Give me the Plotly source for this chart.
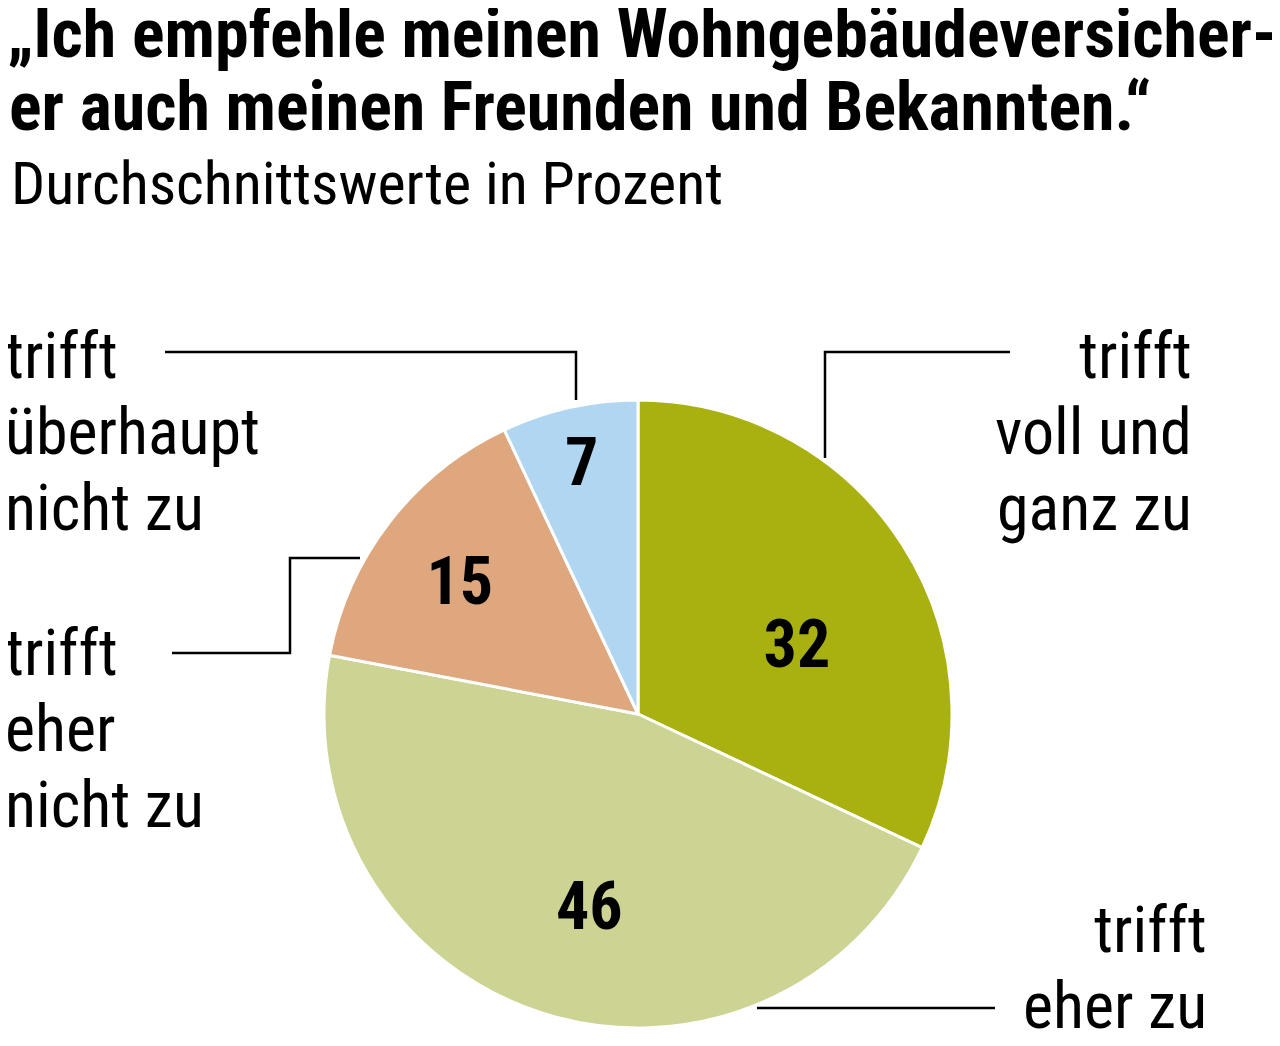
import plotly.graph_objects as go

# Data
categories = ["trifft voll und ganz zu", "trifft eher zu", "trifft eher nicht zu", "trifft überhaupt nicht zu"]
values = [32, 46, 15, 7]
colors = ["#a8b10f", "#cdd392", "#dea77e", "#b0d6f1"]

title_lines = ["„Ich empfehle meinen Wohngebäudeversicher-", "er auch meinen Freunden und Bekannten.“"]
subtitle = "Durchschnittswerte in Prozent"

# label text split into lines, same order as categories
label_lines = [
    ["trifft", "voll und", "ganz zu"],
    ["trifft", "eher zu"],
    ["trifft", "eher", "nicht zu"],
    ["trifft", "überhaupt", "nicht zu"],
]

FONT = "Roboto Condensed, DejaVu Sans Condensed, sans-serif"
PAGE_OFF = 8            # body margin of the html page
W, H = 1280 - PAGE_OFF, 1046 - PAGE_OFF
NB = "\u00a0"
PAD = "<span style='font-size:20px'>" + NB + "</span>"


def px(x):
    # page pixel -> paper fraction
    return (x - PAGE_OFF) / W


def py(y):
    return 1 - (y - PAGE_OFF) / H


def add_line_text(fig, txt, x, baseline, size, anchor="left", bold=False):
    if bold:
        txt = "<b>" + txt + "</b>"
    fig.add_annotation(
        text=txt, x=px(x), y=py(baseline - 0.34 * size), xref="paper", yref="paper",
        xanchor=anchor, yanchor="middle", showarrow=False,
        font=dict(family=FONT, size=size, color="black"))


# small nudges of the in-slice numbers (padding only, value comes from data)
num_tmpl = [
    PAD + "<br>" + NB + NB + "<b>%{value}</b>",
    NB + "<br><b>%{value}</b>",
    "<b>%{value}</b>" + NB,
    "<b>%{value}</b>",
]

fig = go.Figure(go.Pie(
    labels=categories,
    values=values,
    sort=False,
    direction="clockwise",
    rotation=0,
    marker=dict(colors=colors, line=dict(color="white", width=3)),
    texttemplate=num_tmpl,
    textposition="inside",
    insidetextorientation="horizontal",
    textfont=dict(family=FONT, size=66, color="black"),
    domain=dict(x=[px(324), px(952)], y=[py(1028), py(400)]),
    showlegend=False,
    hoverinfo="label+value",
))

# title and subtitle
add_line_text(fig, title_lines[0], 5, 57, 68, bold=True)
add_line_text(fig, title_lines[1], 7, 130, 68, bold=True)
add_line_text(fig, subtitle, 9, 204, 60)

# slice labels: (x, first baseline, anchor)
label_pos = [
    (1194, 378, "right"),
    (1209, 952, "right"),
    (3, 675, "left"),
    (3, 378, "left"),
]
LS = 76
for lines_, (x, b0, al) in zip(label_lines, label_pos):
    for i, t in enumerate(lines_):
        add_line_text(fig, t, x, b0 + i * LS, 64, anchor=al)

# leader lines (page pixels)
leaders = [
    [(1010, 352), (825, 352), (825, 458)],
    [(995, 1008), (757, 1008)],
    [(172, 653), (290, 653), (290, 558), (360, 558)],
    [(165, 352), (576, 352), (576, 400)],
]
for pts in leaders:
    path = "M " + " L ".join(f"{px(x)},{py(y)}" for x, y in pts)
    fig.add_shape(type="path", path=path, xref="paper", yref="paper",
                  line=dict(color="black", width=2.5))

fig.update_layout(
    width=W, height=H,
    margin=dict(l=0, r=0, t=0, b=0),
    paper_bgcolor="white",
    plot_bgcolor="white",
)

fig.write_html("out.html")
